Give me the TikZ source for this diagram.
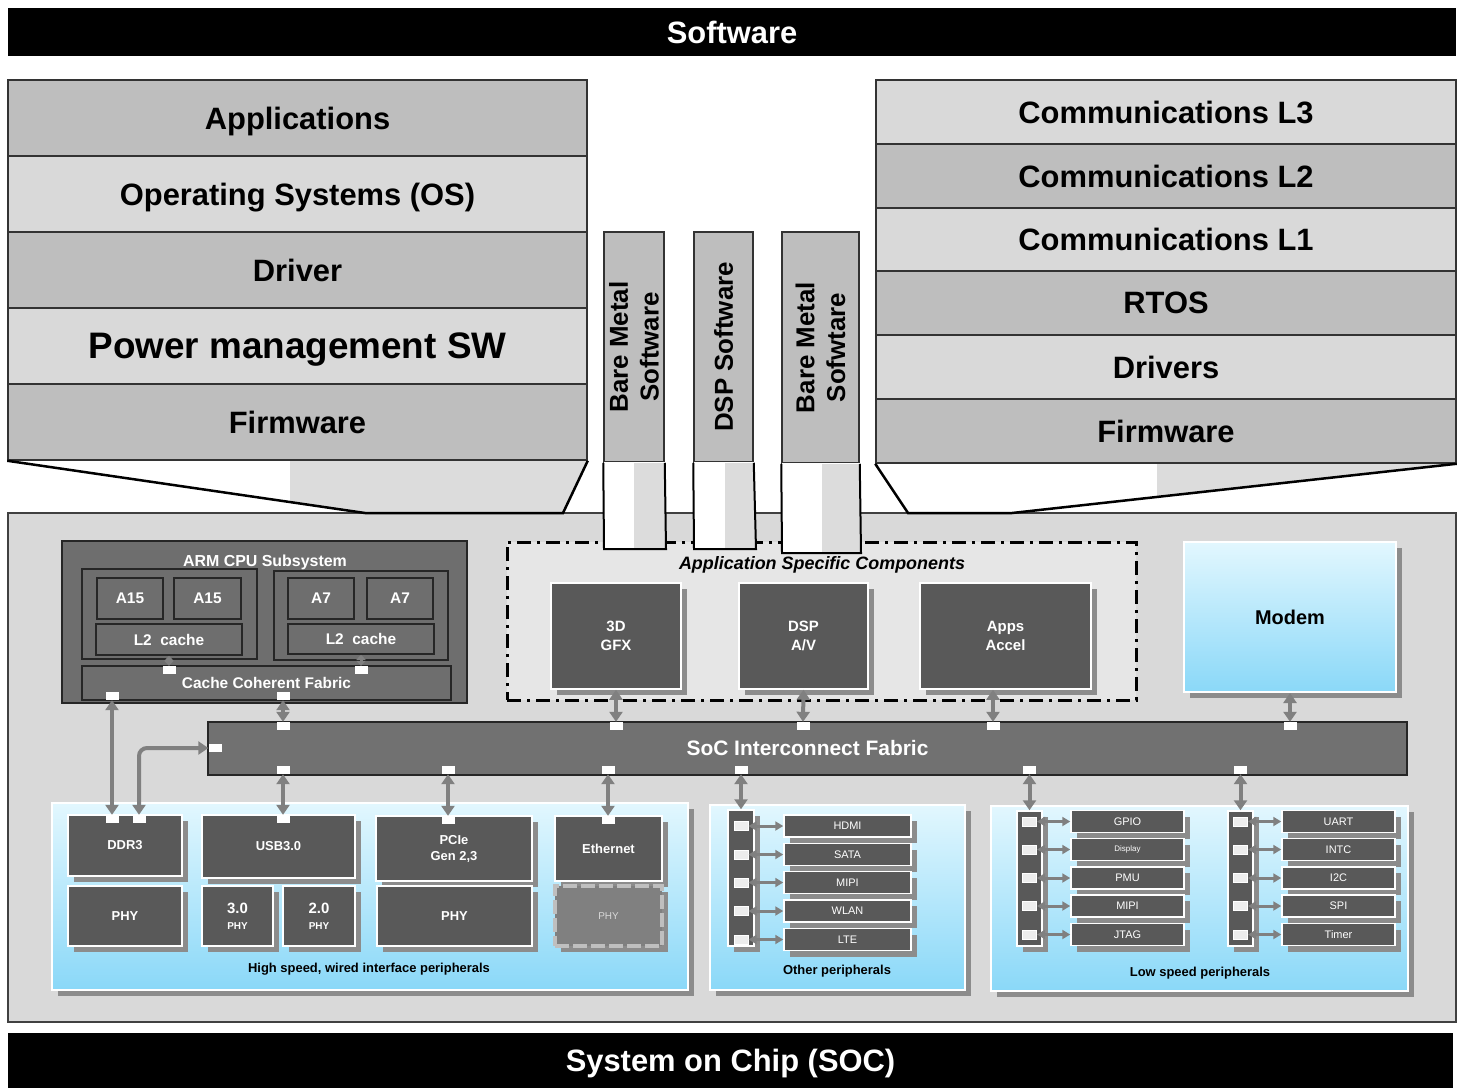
\documentclass[tikz,border=0pt]{standalone}
\usepackage{fontspec}
\setmainfont{Liberation Sans}
\usetikzlibrary{arrows.meta,shadows}

\definecolor{rowdark}{HTML}{BEBEBE}
\definecolor{rowlight}{HTML}{D9D9D9}
\definecolor{socgray}{HTML}{D9D9D9}
\definecolor{ascgray}{HTML}{E6E6E6}
\definecolor{armgray}{HTML}{6E6E6E}
\definecolor{fabgray}{HTML}{717171}
\definecolor{blkgray}{HTML}{595959}
\definecolor{arrgray}{HTML}{808080}
\definecolor{tubegray}{HTML}{DCDCDC}
\definecolor{cyantop}{HTML}{E2F7FE}
\definecolor{cyanbot}{HTML}{8AD8F8}

\newcommand{\fsz}[2]{\fontsize{#1}{#2}\selectfont}

\begin{document}
\begin{tikzpicture}[x=1bp,y=-1bp,>={Triangle[width=13bp,length=10bp]},
  every node/.style={inner sep=0pt},
  sz/.style 2 args={minimum width=#1bp,minimum height=#2bp},
  banner/.style={fill=black,text=white,text depth=0pt,font=\bfseries\fsz{31}{37}},
  swlayer/.style={draw=black!80,line width=1.5bp,text depth=0pt,font=\bfseries\fsz{31}{37}},
  vbar/.style={fill=rowdark,draw=black!80,line width=1.5bp},
  vtext/.style={rotate=90,align=center,font=\bfseries\fsz{26}{31}},
  armbox/.style={fill=armgray,draw=black!85,line width=1.5bp,text=white,font=\bfseries\fsz{15.5}{19}},
  shadowed/.style={drop shadow={shadow xshift=6bp,shadow yshift=-6bp,opacity=1,fill=black!45}},
  blk/.style={fill=blkgray,draw=white,line width=1.5bp,text=white,shadowed,font=\bfseries\fsz{13}{16},align=center},
  pbox/.style={fill=blkgray,draw=white,line width=1.5bp,text=white,shadowed,font=\fsz{11}{13}},
  panel/.style={top color=cyantop,bottom color=cyanbot,draw=white,line width=2bp,shadowed},
  pbar/.style={fill=blkgray,draw=white,line width=1.5bp,shadowed},
  port/.style={fill=white,minimum width=13bp,minimum height=8bp},
  lport/.style={fill=black!7,draw=white,line width=1bp,minimum width=14bp,minimum height=9bp},
  link/.style={draw=arrgray,line width=4bp},
  tinylink/.style={draw=arrgray,line width=3bp,arrows={Triangle[width=9bp,length=5bp]-Triangle[width=9bp,length=5bp]}},
  smalllink/.style={draw=arrgray,line width=3bp,arrows={Triangle[width=9bp,length=8bp]-Triangle[width=9bp,length=8bp]}},
  caption/.style={font=\bfseries\fsz{13}{16}}]
  \useasboundingbox (0,0) rectangle (1458,1090);

  % software side
  \node[banner,sz={1448}{48}] (swbar) at (732,32) {Software};

  \node[swlayer,fill=rowdark,sz={579}{76}] (apps) at (297.5,118) {Applications};
  \node[swlayer,fill=rowlight,sz={579}{76}] (os) at (297.5,194) {Operating Systems (OS)};
  \node[swlayer,fill=rowdark,sz={579}{76}] (drv) at (297.5,270) {Driver};
  \node[swlayer,fill=rowlight,sz={579}{76},font=\bfseries\fsz{37}{44}] (pm) at (297.5,346) {Power management SW};
  \node[swlayer,fill=rowdark,sz={579}{76}] (fwl) at (297.5,422) {Firmware};

  \node[swlayer,fill=rowlight,sz={580}{64}] (cl3) at (1166,112) {Communications L3};
  \node[swlayer,fill=rowdark,sz={580}{64}] (cl2) at (1166,176) {Communications L2};
  \node[swlayer,fill=rowlight,sz={580}{63}] (cl1) at (1166,239.5) {Communications L1};
  \node[swlayer,fill=rowdark,sz={580}{64}] (rtos) at (1166,303) {RTOS};
  \node[swlayer,fill=rowlight,sz={580}{64}] (drvs) at (1166,367) {Drivers};
  \node[swlayer,fill=rowdark,sz={580}{64}] (fwr) at (1166,431) {Firmware};

  % chip
  \node[draw=black!75,line width=1.5bp,fill=socgray,sz={1448}{509}] (soc) at (732,767.5) {};
  \node[banner,sz={1445}{55}] (socbar) at (730.5,1060.5) {System on Chip (SOC)};

  % funnels
  \fill[tubegray] (290,461) -- (587,461) -- (563,513) -- (365,513) -- (290,502) -- cycle;
  \draw[line width=2.5bp] (fwl.south west) -- (365,513) -- (563,513) -- (fwl.south east);
  \fill[tubegray] (1157,464) -- (1455,464) -- (1157,497) -- cycle;
  \draw[line width=2.5bp] (fwr.south west) -- (908,513) -- (1012,513) -- (fwr.south east);

  % application specific components
  \node[fill=ascgray,draw=black,line width=3bp,dash pattern=on 14bp off 6bp on 3bp off 6bp,
    sz={629}{158}] (asc) at (821.5,621) {};
  \node[font=\bfseries\itshape\fsz{18}{22}] (asctitle) at (822,565) {Application Specific Components};

  % bare metal / dsp software bars
  \node[vbar,sz={60}{230}] (bm1) at (634,347) {};
  \node[vtext] (bm1txt) at (bm1.center) {Bare Metal\\Software};
  \node[vbar,sz={59}{230}] (dspsw) at (723.5,347) {};
  \node[vtext] (dspswtxt) at (dspsw.center) {DSP Software};
  \node[vbar,sz={77}{231}] (bm2) at (820.5,347.5) {};
  \node[vtext] (bm2txt) at (bm2.center) {Bare Metal\\Sofwtare};

  \fill[white] (604,462) rectangle (666,549);
  \fill[tubegray] (634,463) rectangle (665,548);
  \draw[line width=2bp] (bm1.south west) -- (604,549) -- (666,549) -- (bm1.south east);
  \fill[white] (694,462) rectangle (756,549);
  \fill[tubegray] (725,463) rectangle (755,548);
  \draw[line width=2bp] (dspsw.south west) -- (694,549) -- (756,549) -- (dspsw.south east);
  \fill[white] (782,463) rectangle (861,553);
  \fill[tubegray] (822,464) rectangle (860,552);
  \draw[line width=2bp] (bm2.south west) -- (782,553) -- (861,553) -- (bm2.south east);

  \node[blk,font=\bfseries\fsz{15}{19},sz={130}{106}] (gfx) at (616,636) {3D\\GFX};
  \node[blk,font=\bfseries\fsz{15}{19},sz={129}{106}] (dsp) at (803.5,636) {DSP\\A/V};
  \node[blk,font=\bfseries\fsz{15}{19},sz={171}{106}] (accel) at (1005.5,636) {Apps\\Accel};

  \node[panel,font=\bfseries\fsz{20}{24},sz={212}{150}] (modem) at (1290,617) {Modem};

  % ARM CPU subsystem
  \node[armbox,sz={405}{162}] (arm) at (264.5,622) {};
  \node[text=white,font=\bfseries\fsz{16}{19}] (armtitle) at (265,562) {ARM CPU Subsystem};
  \node[armbox,sz={175}{90}] (bigcl) at (169.5,614) {};
  \node[armbox,sz={174}{89}] (litcl) at (361,615.5) {};
  \node[armbox,sz={66}{41}] (a15a) at (130,598.5) {A15};
  \node[armbox,sz={67}{41}] (a15b) at (207.5,598.5) {A15};
  \node[armbox,sz={146}{31}] (l2a) at (169,639.5) {L2~~cache};
  \node[armbox,sz={66}{41}] (a7a) at (321,598.5) {A7};
  \node[armbox,sz={66}{41}] (a7b) at (400,598.5) {A7};
  \node[armbox,sz={146}{30}] (l2b) at (361,639) {L2~~cache};
  \node[armbox,sz={369}{34}] (ccf) at (266.5,683) {Cache Coherent Fabric};
  \node[port] (l2ap) at (169,670) {};
  \node[port] (l2bp) at (361,670) {};
  \node[port] (ccfp1) at (112,696) {};
  \node[port] (ccfp2) at (283,696) {};
  \draw[tinylink] (l2a.south) -- (l2ap.north);
  \draw[tinylink] (l2b.south) -- (l2bp.north);

  % interconnect
  \node[fill=fabgray,draw=black!85,line width=1.5bp,text=white,font=\bfseries\fsz{21}{25},
    sz={1199}{53}] (fab) at (807.5,748.5) {SoC Interconnect Fabric};
  \node[port] (fabl) at (215,748) {};
  \foreach \x [count=\i] in {283,616,803,993,1290}
    \node[port] (fabt\i) at (\x,726) {};
  \foreach \x [count=\i] in {283,448,608,741,1029.5,1240.5}
    \node[port] (fabb\i) at (\x,770) {};

  % high speed peripherals
  \node[panel,sz={636}{187}] (hsp) at (370,896.5) {};
  \node[caption] (hsptxt) at (369,969) {High speed, wired interface peripherals};
  \node[blk,sz={114}{61}] (ddr) at (125,845.5) {DDR3};
  \node[blk,sz={114}{60}] (ddrphy) at (125,916) {PHY};
  \node[blk,sz={153}{63}] (usb) at (278.5,846.5) {USB3.0};
  \node[blk,sz={71}{60}] (usb3phy) at (237.5,916) {{\fsz{15}{17}3.0}\\{\fsz{10}{12}PHY}};
  \node[blk,sz={72}{60}] (usb2phy) at (319,916) {{\fsz{15}{17}2.0}\\{\fsz{10}{12}PHY}};
  \node[blk,sz={156}{65}] (pcie) at (454,848.5) {PCIe\\Gen 2,3};
  \node[blk,sz={155}{60}] (pciephy) at (454.5,916) {PHY};
  \node[blk,sz={107}{65}] (eth) at (608.5,848.5) {Ethernet};
  \node[fill=black!50,draw=black!25,line width=4bp,dash pattern=on 14bp off 4bp,text=black!15,
    font=\fsz{10}{12},shadowed,sz={107}{60}] (ethphy) at (608.5,916) {PHY};
  \node[port] (ddrp1) at (112,819) {};
  \node[port] (ddrp2) at (139,819) {};
  \node[port] (usbp) at (283,819) {};
  \node[port] (pciep) at (448,820) {};
  \node[port] (ethp) at (608,820) {};

  % other peripherals
  \node[panel,sz={255}{185}] (oth) at (837.5,897.5) {};
  \node[caption] (othtxt) at (837,971) {Other peripherals};
  \node[pbar,sz={26}{136}] (obar) at (741,878) {};
  \foreach \pname/\yy [count=\i] in {HDMI/826,SATA/854.5,MIPI/882.5,WLAN/911,LTE/939.5} {
    \node[lport] (op\i) at (741,\yy) {};
    \node[pbox,sz={127}{22}] (ob\i) at (847.5,\yy) {\pname};
    \draw[smalllink] (op\i.east) -- (ob\i.west);
  }

  % low speed peripherals
  \node[panel,sz={417}{185}] (lsp) at (1199.5,898.5) {};
  \node[caption] (lsptxt) at (1200,973) {Low speed peripherals};
  \node[pbar,sz={25}{135}] (lbar) at (1029.5,878.5) {};
  \node[pbar,sz={25}{135}] (rbar) at (1240.5,878.5) {};
  \foreach \lname/\rname/\yy [count=\i] in {GPIO/UART/821.5,{\fsz{8}{10}Display}/INTC/849.5,PMU/I2C/878,MIPI/SPI/906,JTAG/Timer/934.5} {
    \node[lport] (lp\i) at (1029.5,\yy) {};
    \node[lport] (rp\i) at (1240.5,\yy) {};
    \node[pbox,sz={113}{22}] (lb\i) at (1127.5,\yy) {\lname};
    \node[pbox,sz={113}{22}] (rb\i) at (1338.5,\yy) {\rname};
    \draw[smalllink] (lp\i.east) -- (lb\i.west);
    \draw[smalllink] (rp\i.east) -- (rb\i.west);
  }

  % links
  \draw[link,<->] (ccfp1.south) -- (ddrp1.north);
  \draw[link,<->,rounded corners=8bp] (ddrp2.north) |- (fabl.west);
  \draw[link,<->] (ccfp2.south) -- (fabt1.north);
  \draw[link,<->] (gfx.south) -- (fabt2.north);
  \draw[link,<->] (dsp.south) -- (fabt3.north);
  \draw[link,<->] (accel.south -| fabt4) -- (fabt4.north);
  \draw[link,<->] (modem.south) -- (fabt5.north);
  \draw[link,<->] (fabb1.south) -- (usbp.north);
  \draw[link,<->] (fabb2.south) -- (pciep.north);
  \draw[link,<->] (fabb3.south) -- (ethp.north);
  \draw[link,<->] (fabb4.south) -- (obar.north);
  \draw[link,<->] (fabb5.south) -- (lbar.north);
  \draw[link,<->] (fabb6.south) -- (rbar.north);
\end{tikzpicture}
\end{document}
